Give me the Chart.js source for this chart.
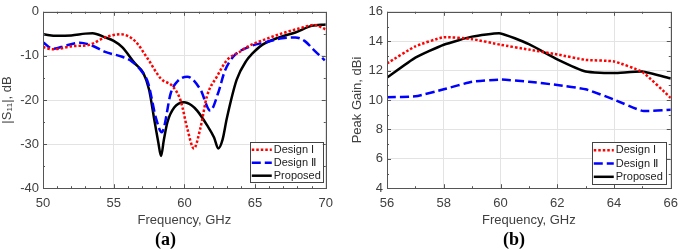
<!DOCTYPE html>
<html>
<head>
<meta charset="utf-8">
<script src="https://cdn.jsdelivr.net/npm/chart.js@4.4.1/dist/chart.umd.min.js"></script>
<style>
html,body{margin:0;padding:0;background:#fff;}
#wrap{position:relative;width:685px;height:250px;overflow:hidden;}
canvas{position:absolute;top:0;}
</style>
</head>
<body>
<div id="wrap">
<canvas id="ca" width="340" height="250" style="left:0px"></canvas>
<canvas id="cb" width="335" height="250" style="left:350px"></canvas>
</div>
<script>
// ---------- Data: (a) |S11| vs frequency ----------
const freqD1 = [50,50.7,52.1,53.26,54.4,55.5,56.5,57.4,58.35,59.17,59.74,60.2,60.67,61.13,61.6,62.3,63.0,63.9,64.6,65.76,66.9,68.1,69.2,70];
const s11D1  = [-8.0,-8.5,-7.8,-7.5,-5.8,-5.1,-6.6,-10.6,-15.2,-16.9,-20.2,-26.4,-31.0,-26.4,-19.1,-14.7,-11.0,-9.1,-7.7,-6.2,-4.9,-3.8,-3.0,-4.0];

const freqD2 = [50,50.7,51.6,52.6,53.5,54.4,55.6,56.3,57.0,57.43,58.0,58.4,59.05,59.5,60.2,61.13,61.83,62.4,62.85,63.45,64.6,65.76,66.9,67.85,68.5,69.2,69.93];
const s11D2  = [-6.9,-8.4,-7.7,-7.0,-7.7,-9.1,-10.2,-11.3,-13.6,-16.1,-24.2,-27.3,-18.3,-15.8,-14.7,-17.6,-22.4,-18.3,-13.5,-10.2,-7.9,-6.9,-6.0,-5.8,-6.6,-8.8,-11.0];

const freqP  = [50,51,52,53,53.5,54.4,55,55.6,56.5,57.1,57.5,57.9,58.15,58.35,58.55,58.8,59.28,59.98,60.5,60.9,61.6,62.1,62.4,62.7,63.0,63.7,64.4,64.8,65.5,66.7,67.85,69,70];
const s11P   = [-5.1,-5.45,-5.35,-4.95,-4.85,-5.8,-6.6,-8.0,-11.7,-13.9,-17.6,-25,-29.5,-32.7,-29,-25,-21.7,-20.5,-21.2,-22.4,-25.7,-28.5,-31.0,-29,-24.2,-15.4,-11.0,-9.5,-7.5,-5.8,-4.7,-3.2,-2.9];

const s11Ticks = [0,-10,-20,-30,-40];

// ---------- Data: (b) Peak gain vs frequency ----------
const freqGain  = [56,57,58,59,60,61,62,63,64,65,66];
const gainD1    = [12.49,13.65,14.27,14.14,13.76,13.43,13.1,12.73,12.62,11.9,10.14];
const gainD2    = [10.19,10.25,10.73,11.24,11.39,11.24,11.02,10.73,10.03,9.26,9.33];
const gainP     = [11.52,12.88,13.76,14.31,14.53,13.8,12.77,11.94,11.83,11.94,11.46];
const gainTicks = [4,6,8,10,12,14,16];

const seriesNames = ['Design I','Design \u2161','Proposed'];

const pairs = (xs, ys) => xs.map((x,i)=>({x:x, y:ys[i]}));

const TXT = '#404040';
const FONT = '"Liberation Sans", Arial, sans-serif';

const styleD1 = {borderColor:'#ff0000', borderWidth:2.5, borderDash:[2.5,2], borderCapStyle:'butt'};
const styleD2 = {borderColor:'#0000ff', borderWidth:2.5, borderDash:[9,4], borderCapStyle:'butt'};
const styleP  = {borderColor:'#000000', borderWidth:2.5, borderDash:[], borderCapStyle:'butt'};

// Inward ticks + frame
const framePlugin = {
  id:'frame',
  afterDatasetsDraw(chart, args, opts){
    const {ctx, chartArea:a} = chart;
    const xs = chart.scales.x, ys = chart.scales.y;
    ctx.save();
    ctx.strokeStyle = '#555'; ctx.lineWidth = 1; ctx.setLineDash([]);
    const line=(x1,y1,x2,y2)=>{ctx.beginPath();ctx.moveTo(x1,y1);ctx.lineTo(x2,y2);ctx.stroke();};
    for (let v = xs.min; v <= xs.max + 1e-9; v += opts.xMinor) {
      const p = Math.round(xs.getPixelForValue(v))+0.5;
      const major = Math.abs((v - xs.min) / opts.xMajor - Math.round((v - xs.min) / opts.xMajor)) < 1e-6;
      const L = major ? 4 : 2;
      line(p,a.bottom,p,a.bottom-L); line(p,a.top,p,a.top+L);
    }
    for (let v = ys.min; v <= ys.max + 1e-9; v += opts.yMinor) {
      const p = Math.round(ys.getPixelForValue(v))+0.5;
      const major = Math.abs((v - ys.min) / opts.yMajor - Math.round((v - ys.min) / opts.yMajor)) < 1e-6;
      const L = major ? 4 : 2;
      line(a.left,p,a.left+L,p); line(a.right,p,a.right-L,p);
    }
    ctx.strokeRect(Math.round(a.left)+0.5, Math.round(a.top)+0.5, Math.round(a.right-a.left), Math.round(a.bottom-a.top));
    ctx.restore();
  }
};

// Inset legend
const insetLegend = {
  id:'insetLegend',
  afterDraw(chart, args, opts){
    const {ctx, chartArea:a} = chart;
    const w = opts.w, h = opts.h;
    const x0 = a.right - opts.dr - w, y0 = a.bottom - opts.db - h;
    ctx.save();
    ctx.fillStyle = '#fff';
    ctx.fillRect(x0, y0, w, h);
    ctx.strokeStyle = '#444'; ctx.lineWidth = 1; ctx.setLineDash([]);
    ctx.strokeRect(Math.round(x0)+0.5, Math.round(y0)+0.5, Math.round(w), Math.round(h));
    ctx.font = '11px ' + FONT;
    ctx.textBaseline = 'middle';
    chart.data.datasets.forEach((ds, i) => {
      const yy = y0 + opts.row0 + i * opts.rowH;
      ctx.strokeStyle = ds.borderColor; ctx.lineWidth = ds.borderWidth;
      ctx.setLineDash(ds.borderDash || []); ctx.lineCap = 'butt';
      ctx.beginPath(); ctx.moveTo(x0 + 2, yy); ctx.lineTo(x0 + 22, yy); ctx.stroke();
      ctx.setLineDash([]);
      ctx.fillStyle = '#222';
      ctx.fillText(ds.label, x0 + 24, yy);
    });
    ctx.restore();
  }
};

function makeChart(id, cfg){
  return new Chart(document.getElementById(id), {
    type:'line',
    data:{datasets: cfg.datasets},
    options:{
      responsive:false, animation:false, devicePixelRatio:1,
      layout:{padding:cfg.padding},
      elements:{point:{radius:0}, line:{cubicInterpolationMode:'monotone', tension:cfg.tension}},
      plugins:{
        legend:{display:false}, tooltip:{enabled:false},
        title:{display:true, text:cfg.title, position:'bottom', color:'#000',
               font:{family:'"Liberation Serif","Times New Roman",serif', size:18, weight:'bold', lineHeight:1.1},
               padding:{top:2,bottom:0}},
        frame:cfg.frame,
        insetLegend:cfg.legend
      },
      scales:{
        x:{type:'linear', min:cfg.xMin, max:cfg.xMax,
           grid:{color:'#e3e3e3', drawTicks:false},
           border:{display:false},
           ticks:{stepSize:cfg.xStep, color:TXT, font:{family:FONT,size:13}, padding:7, maxRotation:0},
           title:{display:true, text:'Frequency, GHz', color:TXT, font:{family:FONT,size:13}, padding:{top:2,bottom:0}},
           afterFit:(s)=>{s.height = cfg.xH;}
        },
        y:{type:'linear', min:cfg.yMin, max:cfg.yMax,
           grid:{color:'#e3e3e3', drawTicks:false},
           border:{display:false},
           afterBuildTicks:(s)=>{ s.ticks = cfg.yTicks.map(v=>({value:v})); },
           ticks:{color:TXT, font:{family:FONT,size:13}, padding:4},
           title:{display:true, text:cfg.yTitle, color:TXT, font:{family:FONT,size:13}, padding:{top:0,bottom:2}},
           afterFit:(s)=>{s.width = cfg.yW;}
        }
      }
    },
    plugins:[framePlugin, insetLegend]
  });
}

makeChart('ca', {
  title:'(a)',
  xMin:50, xMax:70, xStep:5, yMin:-40, yMax:0, yTicks:s11Ticks,
  yTitle:'|S\u2081\u2081|, dB', yW:43, xH:40, tension:0.4,
  padding:{top:7, right:9, left:0, bottom:0},
  frame:{xMinor:1, xMajor:5, yMinor:5, yMajor:10},
  legend:{w:73, h:40, dr:3, db:6, row0:7.5, rowH:13},
  datasets:[
    Object.assign({label:seriesNames[0], data:pairs(freqD1,s11D1)}, styleD1),
    Object.assign({label:seriesNames[1], data:pairs(freqD2,s11D2)}, styleD2),
    Object.assign({label:seriesNames[2], data:pairs(freqP,s11P)}, styleP)
  ]
});

makeChart('cb', {
  title:'(b)',
  xMin:56, xMax:66, xStep:2, yMin:4, yMax:16, yTicks:gainTicks,
  yTitle:'Peak Gain, dBi', yW:37, xH:40, tension:0.15,
  padding:{top:6, right:7, left:0, bottom:0},
  frame:{xMinor:1, xMajor:2, yMinor:1, yMajor:2},
  legend:{w:74, h:42, dr:5, db:4, row0:8, rowH:13.3},
  datasets:[
    Object.assign({label:seriesNames[0], data:pairs(freqGain,gainD1)}, styleD1, {cubicInterpolationMode:'default'}),
    Object.assign({label:seriesNames[1], data:pairs(freqGain,gainD2)}, styleD2, {cubicInterpolationMode:'default'}),
    Object.assign({label:seriesNames[2], data:pairs(freqGain,gainP)}, styleP, {cubicInterpolationMode:'default'})
  ]
});
</script>
</body>
</html>
